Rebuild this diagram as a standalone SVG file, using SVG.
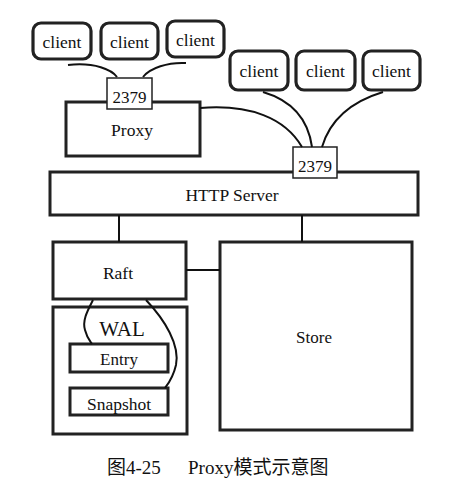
<svg xmlns="http://www.w3.org/2000/svg" width="456" height="488" viewBox="0 0 456 488">
<style>
.t{font-family:"Liberation Serif","Times New Roman","DejaVu Serif",serif;fill:#111;text-anchor:middle;font-size:17.5px}
.c{font-family:"Liberation Serif","Noto Sans CJK SC",serif;fill:#111;font-size:19px}
.cl{fill:#fff;stroke:#222;stroke-width:3.2}
.bx{fill:#fff;stroke:#222;stroke-width:3}
.port{fill:#fff;stroke:#222;stroke-width:1.5}
.ln{fill:none;stroke:#111;stroke-width:2}
</style>
<rect width="456" height="488" fill="#fff"/>
<g id="client1"><rect class="cl" x="33" y="23" width="58" height="36" rx="8"/><text class="t" x="62" y="48">client</text></g>
<g id="client2"><rect class="cl" x="101" y="23" width="57" height="36" rx="8"/><text class="t" x="129.5" y="48">client</text></g>
<g id="client3"><rect class="cl" x="167" y="21" width="57" height="36" rx="8"/><text class="t" x="195.5" y="46">client</text></g>
<g id="client4"><rect class="cl" x="230" y="51" width="58" height="39" rx="8"/><text class="t" x="259" y="77">client</text></g>
<g id="client5"><rect class="cl" x="296" y="51" width="59" height="39" rx="8"/><text class="t" x="325.5" y="77">client</text></g>
<g id="client6"><rect class="cl" x="363" y="51" width="57" height="39" rx="8"/><text class="t" x="391.5" y="77">client</text></g>
<g id="proxy"><rect class="bx" x="66" y="102" width="134" height="54"/><text class="t" x="132" y="136">Proxy</text></g>
<g id="port1"><rect class="port" x="107" y="78" width="45" height="31"/><text class="t" x="129.5" y="103" style="font-size:17px">2379</text></g>
<g id="http"><rect class="bx" x="50" y="172" width="368" height="43"/><text class="t" x="232" y="201">HTTP Server</text></g>
<g id="port2"><rect class="port" x="293" y="147" width="44" height="31"/><text class="t" x="315" y="172" style="font-size:17px">2379</text></g>
<g id="raft"><rect class="bx" x="53" y="242" width="133" height="57"/><text class="t" x="118" y="279">Raft</text></g>
<g id="store"><rect class="bx" x="220" y="242" width="192" height="188"/><text class="t" x="314" y="343" style="font-size:17px">Store</text></g>
<g id="wal"><rect class="bx" x="53" y="307" width="134" height="127" stroke-width="3.5"/><text class="t" x="122" y="336" style="font-size:21px">WAL</text></g>
<g id="entry"><rect class="bx" x="70" y="344" width="98" height="28"/><text class="t" x="119" y="365" style="font-size:17px">Entry</text></g>
<g id="snapshot"><rect class="bx" x="70" y="388" width="98" height="27"/><text class="t" x="119" y="410">Snapshot</text></g>
<g id="connectors">
<path class="ln" d="M68,65 C95,62 112,70 117,77"/>
<path class="ln" d="M143,77 C150,68 168,62 186,63"/>
<path class="ln" d="M263,92 C290,100 308,118 312,147"/>
<path class="ln" d="M383,92 C350,102 330,120 322,147"/>
<path class="ln" d="M200,108 C250,104 285,118 302,147"/>
<line class="ln" x1="119" y1="215" x2="119" y2="242"/>
<line class="ln" x1="302" y1="215" x2="302" y2="242"/>
<line class="ln" x1="186" y1="270" x2="220" y2="270"/>
<path class="ln" d="M93,300 C88,310 82,320 85,330 C87,338 90,341 92,344"/>
<path class="ln" d="M146,300 C165,320 180,345 176,365 C173,378 168,384 165,388"/>
</g>
<g id="caption">
<text class="c" x="107" y="474">图4-25</text>
<text class="c" x="188" y="474">Proxy模式示意图</text>
</g>
</svg>
